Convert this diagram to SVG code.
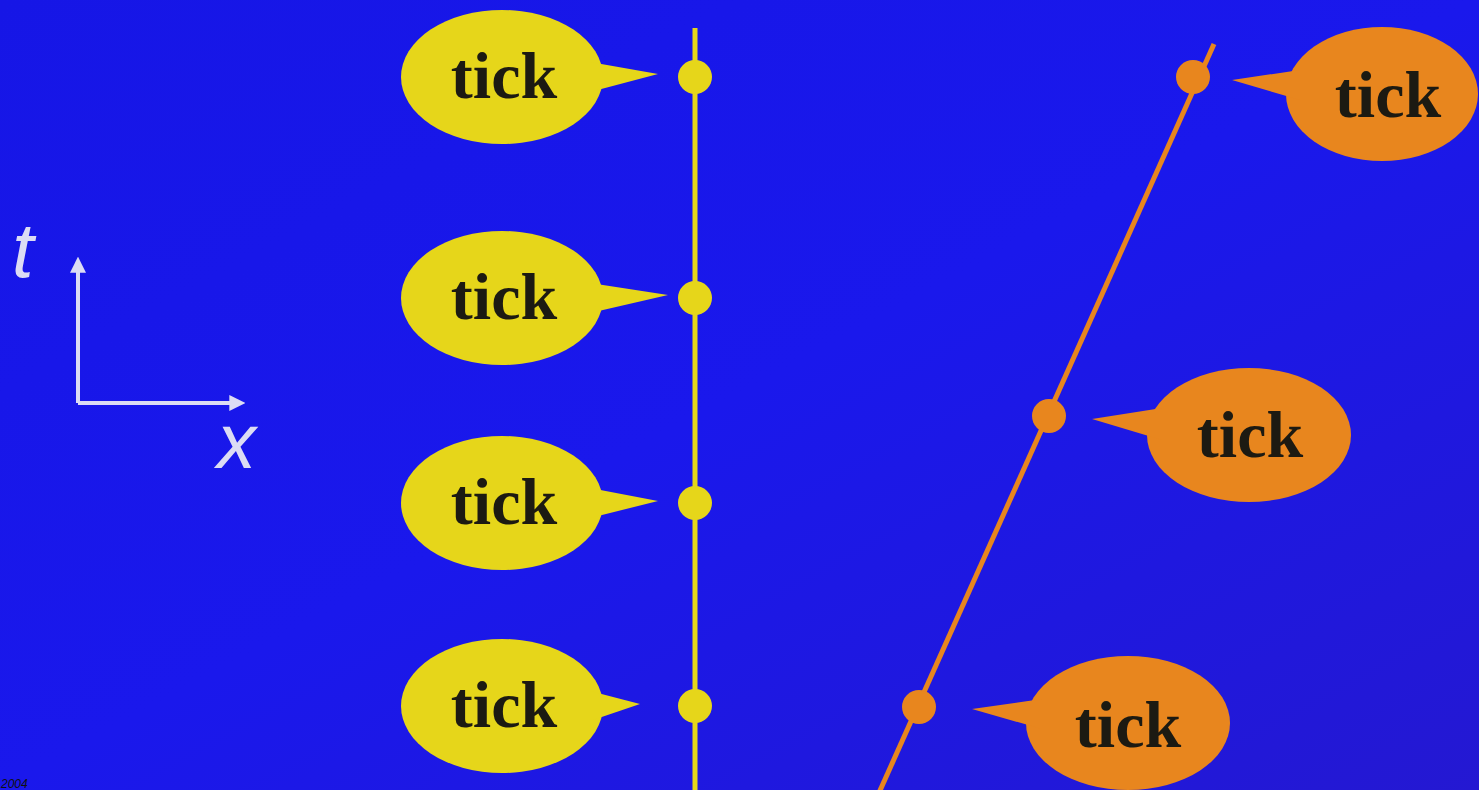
<svg xmlns="http://www.w3.org/2000/svg" width="1479" height="790" viewBox="0 0 1479 790">
  <defs>
    <linearGradient id="bg" x1="0" y1="0" x2="1" y2="1">
      <stop offset="0" stop-color="#1616e6"/>
      <stop offset="0.5" stop-color="#1a18ec"/>
      <stop offset="1" stop-color="#2418d2"/>
    </linearGradient>
    <marker id="axisHead" viewBox="0 0 12 12" refX="2" refY="6" markerWidth="4" markerHeight="4" orient="auto">
      <path d="M0,0 L12,6 L0,12 Z" fill="#dcdcf4"/>
    </marker>
    <style>
      .yel { fill: #e6d61a; }
      .org { fill: #e8861e; }
      .lbl { font-family: "Liberation Serif", "Times New Roman", serif; font-weight: bold; font-size: 66px; fill: #1c1a12; text-anchor: middle; }
      .axis { stroke: #dcdcf4; stroke-width: 4; fill: none; }
      .axlbl { font-family: "Liberation Sans", Arial, sans-serif; font-style: italic; font-size: 78px; fill: #dcdcf4; }
    </style>
  </defs>

  <rect width="1479" height="790" fill="url(#bg)"/>

  <!-- space-time axes -->
  <g id="axes">
    <path class="axis" d="M78,403 L78,270" marker-end="url(#axisHead)"/>
    <path class="axis" d="M78,403 L232,403" marker-end="url(#axisHead)"/>
    <text class="axlbl" x="12" y="277">t</text>
    <text class="axlbl" x="217" y="468">x</text>
  </g>

  <!-- worldlines with their tick events -->
  <g id="connectors">
    <line x1="695" y1="28" x2="695" y2="790" stroke="#e6d61a" stroke-width="5"/>
    <circle class="yel" cx="695" cy="77" r="17"/>
    <circle class="yel" cx="695" cy="298" r="17"/>
    <circle class="yel" cx="695" cy="503" r="17"/>
    <circle class="yel" cx="695" cy="706" r="17"/>
    <line x1="878" y1="795" x2="1214" y2="44" stroke="#e8861e" stroke-width="5"/>
    <circle class="org" cx="1193" cy="77" r="17"/>
    <circle class="org" cx="1049" cy="416" r="17"/>
    <circle class="org" cx="919" cy="707" r="17"/>
  </g>

  <!-- stationary clock ticks -->
  <g id="y1">
    <ellipse class="yel" cx="502" cy="77" rx="101" ry="67"/>
    <polygon class="yel" points="590,62 658,74 590,92"/>
    <text class="lbl" x="504" y="98">tick</text>
  </g>
  <g id="y2">
    <ellipse class="yel" cx="502" cy="298" rx="101" ry="67"/>
    <polygon class="yel" points="590,283 668,295 590,313"/>
    <text class="lbl" x="504" y="319">tick</text>
  </g>
  <g id="y3">
    <ellipse class="yel" cx="502" cy="503" rx="101" ry="67"/>
    <polygon class="yel" points="590,488 658,501 590,518"/>
    <text class="lbl" x="504" y="524">tick</text>
  </g>
  <g id="y4">
    <ellipse class="yel" cx="502" cy="706" rx="101" ry="67"/>
    <polygon class="yel" points="590,691 640,704 590,721"/>
    <text class="lbl" x="504" y="727">tick</text>
  </g>

  <!-- moving clock ticks -->
  <g id="o1">
    <ellipse class="org" cx="1382" cy="94" rx="96" ry="67"/>
    <polygon class="org" points="1300,70 1232,80 1300,100"/>
    <text class="lbl" x="1388" y="117">tick</text>
  </g>
  <g id="o2">
    <ellipse class="org" cx="1249" cy="435" rx="102" ry="67"/>
    <polygon class="org" points="1162,408 1092,419 1162,440"/>
    <text class="lbl" x="1250" y="457">tick</text>
  </g>
  <g id="o3">
    <ellipse class="org" cx="1128" cy="723" rx="102" ry="67"/>
    <polygon class="org" points="1042,699 972,709 1042,729"/>
    <text class="lbl" x="1128" y="747">tick</text>
  </g>

  <text x="1" y="788" font-family="Liberation Sans, Arial, sans-serif" font-style="italic" font-size="12" fill="#101010">2004</text>
</svg>
